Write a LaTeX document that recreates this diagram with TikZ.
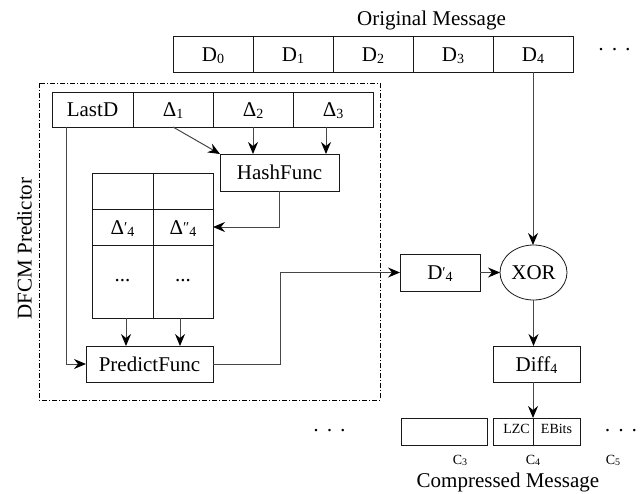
\documentclass[tikz,border=0pt]{standalone}
\usepackage{fontspec}
\setmainfont{Liberation Serif}
\usetikzlibrary{arrows.meta,shapes.geometric,calc}
\newcommand\mysub[1]{\raisebox{-2pt}{\fontsize{14}{14}\selectfont #1}}
\newcommand\mysubs[1]{\raisebox{-1.5pt}{\fontsize{10}{10}\selectfont #1}}
\newcommand\myprime[1]{{\fontsize{15}{15}\selectfont\raisebox{2pt}{#1}}}
\begin{document}
\begin{tikzpicture}[x=1pt,y=-1pt,
  every node/.style={inner sep=0pt,outer sep=0pt},
  big/.style={font=\fontsize{21}{21}\selectfont},
  small/.style={font=\fontsize{14}{14}\selectfont},
  cell/.style={draw=black!90,line width=0.8pt,rectangle,big,text height=14.5pt,text depth=0pt,minimum width=#1,minimum height=36pt},
  cell/.default=80pt,
  arr/.style={draw=black!72,line width=1pt,-{Stealth[length=12pt,width=10pt,inset=4pt,color=black]}},
  frame/.style={draw=black,line width=0.8pt,dash pattern=on 5pt off 2pt on 1pt off 2pt}
]
\useasboundingbox (0,0) rectangle (642,493);

% original message
\node[big,anchor=base] (om) at (431.5,25) {Original Message};
\node[cell] (d0) at (213,54) {D\mysub{0}};
\node[cell] (d1) at (293,54) {D\mysub{1}};
\node[cell] (d2) at (373,54) {D\mysub{2}};
\node[cell] (d3) at (453,54) {D\mysub{3}};
\node[cell] (d4) at (533,54) {D\mysub{4}};
\node[big,anchor=base] (dotsA) at (614.5,56.4) {·\hspace{6.3pt}·\hspace{6.3pt}·};

% predictor frame
\draw[frame] (39,83) rectangle (380,400);
\node[big,rotate=90,anchor=base] (dfcm) at (31.5,248.5) {DFCM Predictor};

\node[cell=81pt,minimum height=35pt] (lastd) at (92.5,109.5) {LastD};
\node[cell,minimum height=35pt] (del1) at (173,109.5) {Δ\mysub{1}};
\node[cell,minimum height=35pt] (del2) at (253,109.5) {Δ\mysub{2}};
\node[cell,minimum height=35pt] (del3) at (333,109.5) {Δ\mysub{3}};

\node[cell=119pt,minimum height=37pt] (hash) at (279.5,172.5) {HashFunc};

\node[cell=61pt] (t11) at (122.5,191) {};
\node[cell=60pt] (t12) at (183,191) {};
\node[cell=61pt] (t21) at (122.5,227) {Δ\myprime{′}\mysub{4}};
\node[cell=60pt] (t22) at (183,227) {Δ\myprime{″}\mysub{4}};
\node[cell=61pt,minimum height=73pt,text height=0pt] (t31) at (122.5,281.5) {...};
\node[cell=60pt,minimum height=73pt,text height=0pt] (t32) at (183,281.5) {...};

\node[cell=127pt] (pred) at (149.5,364) {PredictFunc};

% right part
\node[cell,minimum height=37pt] (dp4) at (440,272.5) {D\myprime{′}\mysub{4}};
\node[draw=black!90,line width=0.8pt,ellipse,big,minimum width=67pt,minimum height=55pt,text height=14.5pt,text depth=0pt] (xor) at (533.5,272.5) {XOR};
\node[cell=87pt] (diff) at (536.5,364) {Diff\mysub{4}};

% compressed message
\node[big,anchor=base] (dotsB) at (329.5,437.4) {·\hspace{6.3pt}·\hspace{6.3pt}·};
\node[cell=86pt,minimum height=27pt] (c3) at (444,431.5) {};
\node[cell=40pt,minimum height=27pt,small,text height=3pt] (lzc) at (513,431.5) {\hspace{7pt}LZC};
\node[cell=47pt,minimum height=27pt,small,text height=3pt] (ebits) at (556.5,431.5) {EBits};
\node[big,anchor=base] (dotsC) at (621,437.4) {·\hspace{6.3pt}·\hspace{6.3pt}·};
\node[small,anchor=base] (l3) at (460,464) {C\mysubs{3}};
\node[small,anchor=base] (l4) at (533,464) {C\mysubs{4}};
\node[small,anchor=base] (l5) at (613,464) {C\mysubs{5}};
\node[big,anchor=base] (cm) at (508,487) {Compressed Message};

% connectors
\draw[arr] (d4.south) -- (d4.south |- xor.north);
\draw[arr] (del1.south) -- (hash.north west);
\draw[arr] (del2.south) -- (del2.south |- hash.north);
\draw[arr] ([xshift=-7pt]del3.south) -- ([xshift=-7pt]del3.south |- hash.north);
\draw[arr] (hash.south) |- (t22.east);
\draw[arr] ([xshift=3.5pt]t31.south) -- ([xshift=3.5pt]t31.south |- pred.north);
\draw[arr] ([xshift=-3pt]t32.south) -- ([xshift=-3pt]t32.south |- pred.north);
\draw[arr] ([xshift=-26.5pt]lastd.south) |- (pred.west);
\draw[arr] (pred.east) -- ++(67,0) |- (dp4.west);
\draw[arr] (dp4.east) -- (xor.west);
\draw[arr] (xor.south) -- (xor.south |- diff.north);
\draw[arr] (diff.south -| lzc.north east) -- (lzc.north east);
\end{tikzpicture}
\end{document}
